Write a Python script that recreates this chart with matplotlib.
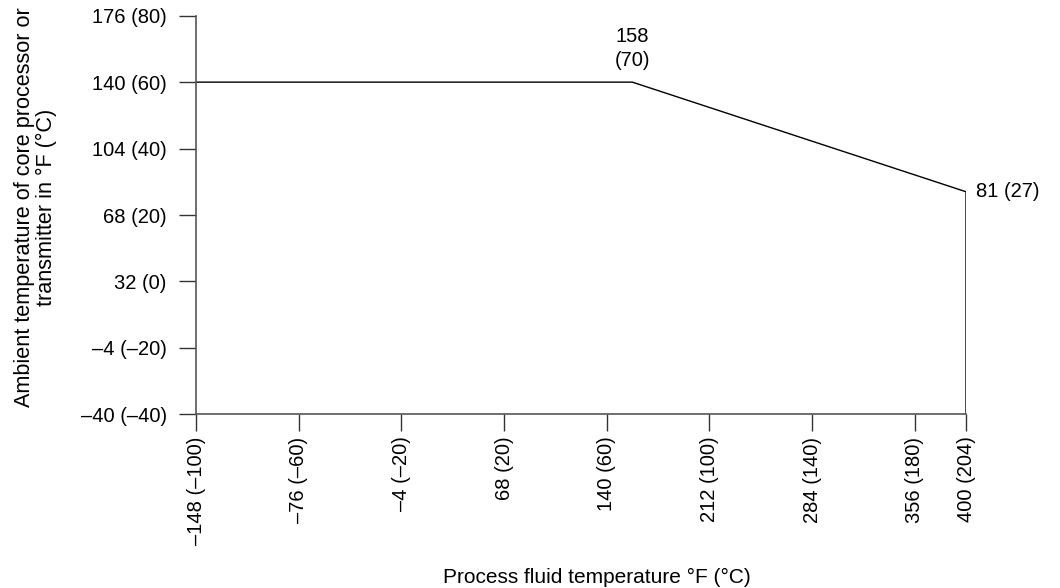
import numpy as np
import matplotlib
matplotlib.use("Agg")
import matplotlib.pyplot as plt

plt.rcParams['font.family'] = ['Liberation Sans', 'DejaVu Sans']

# Data (°C)
x_c = [-100, 70, 204, 204]
y_c = [60, 60, 27, -40]

xtick_c = [-100, -60, -20, 20, 60, 100, 140, 180, 204]
xtick_labels = ['–148 (–100)', '–76 (–60)', '–4 (–20)', '68 (20)', '140 (60)',
                '212 (100)', '284 (140)', '356 (180)', '400 (204)']
ytick_c = [-40, -20, 0, 20, 40, 60, 80]
ytick_labels = ['–40 (–40)', '–4 (–20)', '32 (0)', '68 (20)', '104 (40)',
                '140 (60)', '176 (80)']

FS = 14.5

# the chart squeezes the last segment (180..204) onto one 20° step
def fwd(x):
    return np.interp(x, [-200, 180, 204, 400], [-200, 180, 200, 396])

def inv(x):
    return np.interp(x, [-200, 180, 200, 396], [-200, 180, 204, 400])

fig = plt.figure(figsize=(10.6, 5.88), dpi=100)
ax = fig.add_axes([196/1060, 1-414.3/588, (966-196)/1060, (414.3-15.7)/588])
ax.set_xscale('function', functions=(fwd, inv))
ax.plot(x_c, y_c, color='black', lw=1.0, solid_joinstyle='miter')
ax.set_xlim(-100, 204)
ax.set_ylim(-40, 80)

ax.set_xticks(xtick_c)
ax.set_xticklabels(xtick_labels, rotation=90, fontsize=FS)
ax.set_yticks(ytick_c)
ax.set_yticklabels(ytick_labels, fontsize=FS)
ax.minorticks_off()
ax.tick_params(axis='both', length=12, width=1, color='#333333', direction='out', pad=4)
ax.tick_params(axis='y', pad=9)

for s in ['top', 'right']:
    ax.spines[s].set_visible(False)
for s in ['left', 'bottom']:
    ax.spines[s].set_color('#555555')
    ax.spines[s].set_linewidth(1.2)

ax.annotate('158\n(70)', xy=(70, 60), xytext=(0, 9), textcoords='offset points',
            ha='center', va='bottom', fontsize=FS, linespacing=1.3)
ax.annotate('81 (27)', xy=(204, 27), xytext=(7, 0), textcoords='offset points',
            ha='left', va='center', fontsize=FS, annotation_clip=False)

ax.set_ylabel('Ambient temperature of core processor or\ntransmitter in °F (°C)',
              fontsize=15.6, linespacing=1.05)
ax.yaxis.set_label_coords(-0.181, 0.52)
fig.text(597/1060, 1-577/588, 'Process fluid temperature °F (°C)',
         ha='center', va='center', fontsize=15)

fig.savefig('out.png', dpi=100)
